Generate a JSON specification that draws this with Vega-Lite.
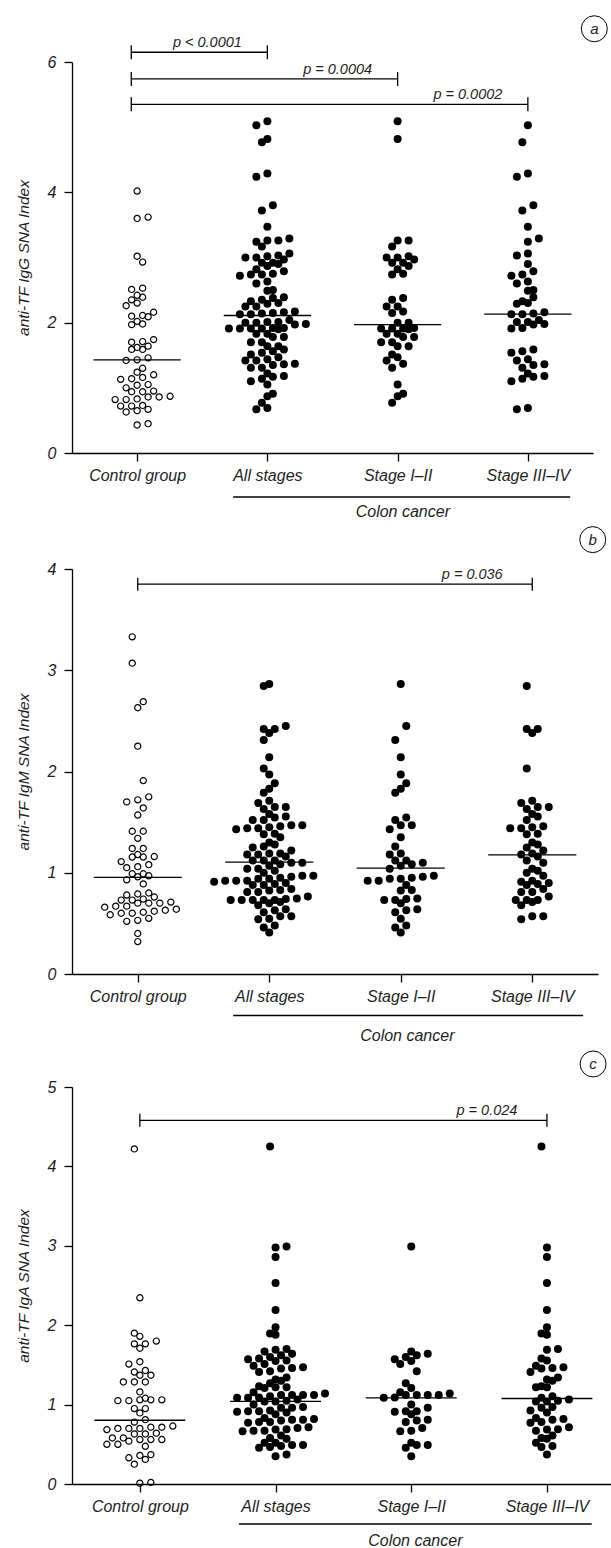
{
"$schema":"https://vega.github.io/schema/vega-lite/v6.json",
"background":"white",
"padding":{"left":16,"top":13,"right":0,"bottom":0},
"spacing":4,
"config":{
"view":{"stroke":null},
"font":"Liberation Sans",
"axis":{"grid":false,"domainColor":"black","domainWidth":1.3,"tickColor":"black","tickWidth":1.3,"tickSize":8,"labelFontSize":16,"labelFontStyle":"italic","labelColor":"#1e1e1e","titleFontSize":15.5,"titleFontStyle":"italic","titleFontWeight":"normal","titleColor":"#1e1e1e","labelFlush":false,"labelOverlap":false},
"axisY":{"labelPadding":8,"titlePadding":16,"format":"d"},
"axisX":{"labelPadding":6},
"text":{"fontStyle":"italic","color":"#1e1e1e"}
},
"datasets":{
"a":[
{"g":"C","v":4.02},{"g":"C","v":3.60},{"g":"C","v":3.62},{"g":"C","v":3.02},{"g":"C","v":2.93},{"g":"C","v":2.51},{"g":"C","v":2.53},{"g":"C","v":2.39},{"g":"C","v":2.35},{"g":"C","v":2.42},{"g":"C","v":2.30},{"g":"C","v":2.26},{"g":"C","v":2.16},{"g":"C","v":2.10},{"g":"C","v":2.09},{"g":"C","v":2.11},{"g":"C","v":1.98},{"g":"C","v":1.97},{"g":"C","v":2.02},{"g":"C","v":1.74},{"g":"C","v":1.70},{"g":"C","v":1.71},{"g":"C","v":1.59},{"g":"C","v":1.62},{"g":"C","v":1.64},{"g":"C","v":1.59},{"g":"C","v":1.43},{"g":"C","v":1.42},{"g":"C","v":1.46},{"g":"C","v":1.30},{"g":"C","v":1.20},{"g":"C","v":1.24},{"g":"C","v":1.16},{"g":"C","v":1.13},{"g":"C","v":1.14},{"g":"C","v":1.04},{"g":"C","v":1.00},{"g":"C","v":1.05},{"g":"C","v":0.94},{"g":"C","v":0.95},{"g":"C","v":0.94},{"g":"C","v":0.86},{"g":"C","v":0.82},{"g":"C","v":0.82},{"g":"C","v":0.83},{"g":"C","v":0.86},{"g":"C","v":0.87},{"g":"C","v":0.73},{"g":"C","v":0.72},{"g":"C","v":0.65},{"g":"C","v":0.63},{"g":"C","v":0.67},{"g":"C","v":0.72},{"g":"C","v":0.43},{"g":"C","v":0.45},
{"g":"E","v":5.09},{"g":"E","v":4.82},{"g":"E","v":3.26},{"g":"E","v":3.26},{"g":"E","v":3.17},{"g":"E","v":3.02},{"g":"E","v":3.00},{"g":"E","v":2.92},{"g":"E","v":2.92},{"g":"E","v":2.97},{"g":"E","v":3.00},{"g":"E","v":2.82},{"g":"E","v":2.87},{"g":"E","v":2.74},{"g":"E","v":2.75},{"g":"E","v":2.38},{"g":"E","v":2.35},{"g":"E","v":2.25},{"g":"E","v":2.15},{"g":"E","v":2.17},{"g":"E","v":2.25},{"g":"E","v":2.00},{"g":"E","v":2.00},{"g":"E","v":1.91},{"g":"E","v":1.91},{"g":"E","v":1.90},{"g":"E","v":1.91},{"g":"E","v":1.92},{"g":"E","v":1.83},{"g":"E","v":1.83},{"g":"E","v":1.78},{"g":"E","v":1.78},{"g":"E","v":1.70},{"g":"E","v":1.70},{"g":"E","v":1.64},{"g":"E","v":1.64},{"g":"E","v":1.51},{"g":"E","v":1.47},{"g":"E","v":1.42},{"g":"E","v":1.37},{"g":"E","v":1.31},{"g":"E","v":1.05},{"g":"E","v":0.91},{"g":"E","v":0.87},{"g":"E","v":0.77},
{"g":"L","v":5.03},{"g":"L","v":4.77},{"g":"L","v":4.29},{"g":"L","v":4.24},{"g":"L","v":3.72},{"g":"L","v":3.80},{"g":"L","v":3.47},{"g":"L","v":3.24},{"g":"L","v":3.29},{"g":"L","v":3.03},{"g":"L","v":3.06},{"g":"L","v":2.90},{"g":"L","v":2.79},{"g":"L","v":2.72},{"g":"L","v":2.74},{"g":"L","v":2.63},{"g":"L","v":2.60},{"g":"L","v":2.50},{"g":"L","v":2.49},{"g":"L","v":2.33},{"g":"L","v":2.29},{"g":"L","v":2.30},{"g":"L","v":2.39},{"g":"L","v":2.16},{"g":"L","v":2.13},{"g":"L","v":2.13},{"g":"L","v":2.14},{"g":"L","v":2.04},{"g":"L","v":2.01},{"g":"L","v":1.97},{"g":"L","v":1.91},{"g":"L","v":1.92},{"g":"L","v":1.98},{"g":"L","v":2.01},{"g":"L","v":1.56},{"g":"L","v":1.54},{"g":"L","v":1.59},{"g":"L","v":1.44},{"g":"L","v":1.42},{"g":"L","v":1.36},{"g":"L","v":1.31},{"g":"L","v":1.35},{"g":"L","v":1.18},{"g":"L","v":1.14},{"g":"L","v":1.10},{"g":"L","v":1.17},{"g":"L","v":1.22},{"g":"L","v":0.67},{"g":"L","v":0.69},
{"g":"A","v":5.09},{"g":"A","v":4.82},{"g":"A","v":3.26},{"g":"A","v":3.26},{"g":"A","v":3.17},{"g":"A","v":3.02},{"g":"A","v":3.00},{"g":"A","v":2.92},{"g":"A","v":2.92},{"g":"A","v":2.97},{"g":"A","v":3.00},{"g":"A","v":2.82},{"g":"A","v":2.87},{"g":"A","v":2.74},{"g":"A","v":2.75},{"g":"A","v":2.38},{"g":"A","v":2.35},{"g":"A","v":2.25},{"g":"A","v":2.15},{"g":"A","v":2.17},{"g":"A","v":2.25},{"g":"A","v":2.00},{"g":"A","v":2.00},{"g":"A","v":1.91},{"g":"A","v":1.91},{"g":"A","v":1.90},{"g":"A","v":1.91},{"g":"A","v":1.92},{"g":"A","v":1.83},{"g":"A","v":1.83},{"g":"A","v":1.78},{"g":"A","v":1.78},{"g":"A","v":1.70},{"g":"A","v":1.70},{"g":"A","v":1.64},{"g":"A","v":1.64},{"g":"A","v":1.51},{"g":"A","v":1.47},{"g":"A","v":1.42},{"g":"A","v":1.37},{"g":"A","v":1.31},{"g":"A","v":1.05},{"g":"A","v":0.91},{"g":"A","v":0.87},{"g":"A","v":0.77},
{"g":"A","v":5.03},{"g":"A","v":4.77},{"g":"A","v":4.29},{"g":"A","v":4.24},{"g":"A","v":3.72},{"g":"A","v":3.80},{"g":"A","v":3.47},{"g":"A","v":3.24},{"g":"A","v":3.29},{"g":"A","v":3.03},{"g":"A","v":3.06},{"g":"A","v":2.90},{"g":"A","v":2.79},{"g":"A","v":2.72},{"g":"A","v":2.74},{"g":"A","v":2.63},{"g":"A","v":2.60},{"g":"A","v":2.50},{"g":"A","v":2.49},{"g":"A","v":2.33},{"g":"A","v":2.29},{"g":"A","v":2.30},{"g":"A","v":2.39},{"g":"A","v":2.16},{"g":"A","v":2.13},{"g":"A","v":2.13},{"g":"A","v":2.14},{"g":"A","v":2.04},{"g":"A","v":2.01},{"g":"A","v":1.97},{"g":"A","v":1.91},{"g":"A","v":1.92},{"g":"A","v":1.98},{"g":"A","v":2.01},{"g":"A","v":1.56},{"g":"A","v":1.54},{"g":"A","v":1.59},{"g":"A","v":1.44},{"g":"A","v":1.42},{"g":"A","v":1.36},{"g":"A","v":1.31},{"g":"A","v":1.35},{"g":"A","v":1.18},{"g":"A","v":1.14},{"g":"A","v":1.10},{"g":"A","v":1.17},{"g":"A","v":1.22},{"g":"A","v":0.67},{"g":"A","v":0.69}
],
"b":[
{"g":"C","v":3.33},{"g":"C","v":3.07},{"g":"C","v":2.63},{"g":"C","v":2.69},{"g":"C","v":2.25},{"g":"C","v":1.91},{"g":"C","v":1.72},{"g":"C","v":1.70},{"g":"C","v":1.75},{"g":"C","v":1.57},{"g":"C","v":1.64},{"g":"C","v":1.41},{"g":"C","v":1.34},{"g":"C","v":1.41},{"g":"C","v":1.24},{"g":"C","v":1.24},{"g":"C","v":1.155},{"g":"C","v":1.11},{"g":"C","v":1.16},{"g":"C","v":1.18},{"g":"C","v":1.155},{"g":"C","v":1.06},{"g":"C","v":1.05},{"g":"C","v":1.08},{"g":"C","v":0.99},{"g":"C","v":0.96},{"g":"C","v":0.97},{"g":"C","v":0.99},{"g":"C","v":0.93},{"g":"C","v":0.89},{"g":"C","v":0.80},{"g":"C","v":0.78},{"g":"C","v":0.76},{"g":"C","v":0.79},{"g":"C","v":0.74},{"g":"C","v":0.73},{"g":"C","v":0.71},{"g":"C","v":0.73},{"g":"C","v":0.70},{"g":"C","v":0.70},{"g":"C","v":0.67},{"g":"C","v":0.64},{"g":"C","v":0.66},{"g":"C","v":0.67},{"g":"C","v":0.70},{"g":"C","v":0.62},{"g":"C","v":0.63},{"g":"C","v":0.60},{"g":"C","v":0.585},{"g":"C","v":0.55},{"g":"C","v":0.60},{"g":"C","v":0.61},{"g":"C","v":0.53},{"g":"C","v":0.52},{"g":"C","v":0.40},{"g":"C","v":0.32},
{"g":"E","v":2.865},{"g":"E","v":2.45},{"g":"E","v":2.31},{"g":"E","v":2.14},{"g":"E","v":1.97},{"g":"E","v":1.885},{"g":"E","v":1.83},{"g":"E","v":1.79},{"g":"E","v":1.52},{"g":"E","v":1.545},{"g":"E","v":1.43},{"g":"E","v":1.47},{"g":"E","v":1.47},{"g":"E","v":1.35},{"g":"E","v":1.26},{"g":"E","v":1.18},{"g":"E","v":1.19},{"g":"E","v":1.12},{"g":"E","v":1.10},{"g":"E","v":1.12},{"g":"E","v":1.07},{"g":"E","v":1.04},{"g":"E","v":1.085},{"g":"E","v":0.97},{"g":"E","v":0.94},{"g":"E","v":0.94},{"g":"E","v":0.95},{"g":"E","v":0.96},{"g":"E","v":0.92},{"g":"E","v":0.88},{"g":"E","v":0.92},{"g":"E","v":0.825},{"g":"E","v":0.83},{"g":"E","v":0.745},{"g":"E","v":0.73},{"g":"E","v":0.70},{"g":"E","v":0.73},{"g":"E","v":0.74},{"g":"E","v":0.64},{"g":"E","v":0.61},{"g":"E","v":0.63},{"g":"E","v":0.545},{"g":"E","v":0.48},{"g":"E","v":0.46},{"g":"E","v":0.41},
{"g":"L","v":2.845},{"g":"L","v":2.42},{"g":"L","v":2.38},{"g":"L","v":2.42},{"g":"L","v":2.03},{"g":"L","v":1.71},{"g":"L","v":1.69},{"g":"L","v":1.65},{"g":"L","v":1.63},{"g":"L","v":1.65},{"g":"L","v":1.555},{"g":"L","v":1.58},{"g":"L","v":1.52},{"g":"L","v":1.46},{"g":"L","v":1.45},{"g":"L","v":1.44},{"g":"L","v":1.44},{"g":"L","v":1.385},{"g":"L","v":1.38},{"g":"L","v":1.28},{"g":"L","v":1.30},{"g":"L","v":1.25},{"g":"L","v":1.22},{"g":"L","v":1.19},{"g":"L","v":1.16},{"g":"L","v":1.18},{"g":"L","v":1.12},{"g":"L","v":1.10},{"g":"L","v":1.04},{"g":"L","v":1.02},{"g":"L","v":0.97},{"g":"L","v":1.00},{"g":"L","v":0.92},{"g":"L","v":0.91},{"g":"L","v":0.89},{"g":"L","v":0.88},{"g":"L","v":0.90},{"g":"L","v":0.84},{"g":"L","v":0.81},{"g":"L","v":0.81},{"g":"L","v":0.765},{"g":"L","v":0.73},{"g":"L","v":0.71},{"g":"L","v":0.68},{"g":"L","v":0.73},{"g":"L","v":0.73},{"g":"L","v":0.57},{"g":"L","v":0.54},{"g":"L","v":0.57},
{"g":"A","v":2.865},{"g":"A","v":2.45},{"g":"A","v":2.31},{"g":"A","v":2.14},{"g":"A","v":1.97},{"g":"A","v":1.885},{"g":"A","v":1.83},{"g":"A","v":1.79},{"g":"A","v":1.52},{"g":"A","v":1.545},{"g":"A","v":1.43},{"g":"A","v":1.47},{"g":"A","v":1.47},{"g":"A","v":1.35},{"g":"A","v":1.26},{"g":"A","v":1.18},{"g":"A","v":1.19},{"g":"A","v":1.12},{"g":"A","v":1.10},{"g":"A","v":1.12},{"g":"A","v":1.07},{"g":"A","v":1.04},{"g":"A","v":1.085},{"g":"A","v":0.97},{"g":"A","v":0.94},{"g":"A","v":0.94},{"g":"A","v":0.95},{"g":"A","v":0.96},{"g":"A","v":0.92},{"g":"A","v":0.88},{"g":"A","v":0.92},{"g":"A","v":0.825},{"g":"A","v":0.83},{"g":"A","v":0.745},{"g":"A","v":0.73},{"g":"A","v":0.70},{"g":"A","v":0.73},{"g":"A","v":0.74},{"g":"A","v":0.64},{"g":"A","v":0.61},{"g":"A","v":0.63},{"g":"A","v":0.545},{"g":"A","v":0.48},{"g":"A","v":0.46},{"g":"A","v":0.41},
{"g":"A","v":2.845},{"g":"A","v":2.42},{"g":"A","v":2.38},{"g":"A","v":2.42},{"g":"A","v":2.03},{"g":"A","v":1.71},{"g":"A","v":1.69},{"g":"A","v":1.65},{"g":"A","v":1.63},{"g":"A","v":1.65},{"g":"A","v":1.555},{"g":"A","v":1.58},{"g":"A","v":1.52},{"g":"A","v":1.46},{"g":"A","v":1.45},{"g":"A","v":1.44},{"g":"A","v":1.44},{"g":"A","v":1.385},{"g":"A","v":1.38},{"g":"A","v":1.28},{"g":"A","v":1.30},{"g":"A","v":1.25},{"g":"A","v":1.22},{"g":"A","v":1.19},{"g":"A","v":1.16},{"g":"A","v":1.18},{"g":"A","v":1.12},{"g":"A","v":1.10},{"g":"A","v":1.04},{"g":"A","v":1.02},{"g":"A","v":0.97},{"g":"A","v":1.00},{"g":"A","v":0.92},{"g":"A","v":0.91},{"g":"A","v":0.89},{"g":"A","v":0.88},{"g":"A","v":0.90},{"g":"A","v":0.84},{"g":"A","v":0.81},{"g":"A","v":0.81},{"g":"A","v":0.765},{"g":"A","v":0.73},{"g":"A","v":0.71},{"g":"A","v":0.68},{"g":"A","v":0.73},{"g":"A","v":0.73},{"g":"A","v":0.57},{"g":"A","v":0.54},{"g":"A","v":0.57}
],
"c":[
{"g":"C","v":4.22},{"g":"C","v":2.345},{"g":"C","v":1.80},{"g":"C","v":1.765},{"g":"C","v":1.71},{"g":"C","v":1.86},{"g":"C","v":1.90},{"g":"C","v":1.765},{"g":"C","v":1.51},{"g":"C","v":1.54},{"g":"C","v":1.37},{"g":"C","v":1.285},{"g":"C","v":1.285},{"g":"C","v":1.41},{"g":"C","v":1.43},{"g":"C","v":1.285},{"g":"C","v":1.37},{"g":"C","v":1.16},{"g":"C","v":1.06},{"g":"C","v":1.05},{"g":"C","v":1.08},{"g":"C","v":1.05},{"g":"C","v":1.06},{"g":"C","v":1.06},{"g":"C","v":0.95},{"g":"C","v":0.95},{"g":"C","v":0.895},{"g":"C","v":0.78},{"g":"C","v":0.81},{"g":"C","v":0.70},{"g":"C","v":0.685},{"g":"C","v":0.73},{"g":"C","v":0.715},{"g":"C","v":0.715},{"g":"C","v":0.70},{"g":"C","v":0.70},{"g":"C","v":0.63},{"g":"C","v":0.63},{"g":"C","v":0.64},{"g":"C","v":0.56},{"g":"C","v":0.56},{"g":"C","v":0.58},{"g":"C","v":0.58},{"g":"C","v":0.54},{"g":"C","v":0.56},{"g":"C","v":0.50},{"g":"C","v":0.475},{"g":"C","v":0.50},{"g":"C","v":0.36},{"g":"C","v":0.31},{"g":"C","v":0.25},{"g":"C","v":0.33},{"g":"C","v":0.37},{"g":"C","v":0.01},{"g":"C","v":0.02},
{"g":"E","v":2.99},{"g":"E","v":1.67},{"g":"E","v":1.62},{"g":"E","v":1.57},{"g":"E","v":1.60},{"g":"E","v":1.64},{"g":"E","v":1.55},{"g":"E","v":1.51},{"g":"E","v":1.42},{"g":"E","v":1.27},{"g":"E","v":1.21},{"g":"E","v":1.14},{"g":"E","v":1.12},{"g":"E","v":1.12},{"g":"E","v":1.085},{"g":"E","v":1.09},{"g":"E","v":1.12},{"g":"E","v":1.12},{"g":"E","v":1.155},{"g":"E","v":1.00},{"g":"E","v":0.96},{"g":"E","v":0.915},{"g":"E","v":0.88},{"g":"E","v":0.91},{"g":"E","v":0.915},{"g":"E","v":0.80},{"g":"E","v":0.81},{"g":"E","v":0.78},{"g":"E","v":0.705},{"g":"E","v":0.665},{"g":"E","v":0.67},{"g":"E","v":0.49},{"g":"E","v":0.49},{"g":"E","v":0.52},{"g":"E","v":0.455},{"g":"E","v":0.35},
{"g":"L","v":4.25},{"g":"L","v":2.98},{"g":"L","v":2.86},{"g":"L","v":2.53},{"g":"L","v":2.19},{"g":"L","v":1.975},{"g":"L","v":1.895},{"g":"L","v":1.88},{"g":"L","v":1.69},{"g":"L","v":1.70},{"g":"L","v":1.58},{"g":"L","v":1.555},{"g":"L","v":1.49},{"g":"L","v":1.455},{"g":"L","v":1.46},{"g":"L","v":1.47},{"g":"L","v":1.41},{"g":"L","v":1.34},{"g":"L","v":1.30},{"g":"L","v":1.315},{"g":"L","v":1.23},{"g":"L","v":1.22},{"g":"L","v":1.22},{"g":"L","v":1.085},{"g":"L","v":1.05},{"g":"L","v":1.04},{"g":"L","v":1.105},{"g":"L","v":1.04},{"g":"L","v":1.065},{"g":"L","v":0.90},{"g":"L","v":0.96},{"g":"L","v":0.97},{"g":"L","v":0.925},{"g":"L","v":0.77},{"g":"L","v":0.82},{"g":"L","v":0.81},{"g":"L","v":0.83},{"g":"L","v":0.78},{"g":"L","v":0.715},{"g":"L","v":0.685},{"g":"L","v":0.67},{"g":"L","v":0.69},{"g":"L","v":0.61},{"g":"L","v":0.57},{"g":"L","v":0.58},{"g":"L","v":0.52},{"g":"L","v":0.48},{"g":"L","v":0.465},{"g":"L","v":0.37},
{"g":"A","v":2.99},{"g":"A","v":1.67},{"g":"A","v":1.62},{"g":"A","v":1.57},{"g":"A","v":1.60},{"g":"A","v":1.64},{"g":"A","v":1.55},{"g":"A","v":1.51},{"g":"A","v":1.42},{"g":"A","v":1.27},{"g":"A","v":1.21},{"g":"A","v":1.14},{"g":"A","v":1.12},{"g":"A","v":1.12},{"g":"A","v":1.085},{"g":"A","v":1.09},{"g":"A","v":1.12},{"g":"A","v":1.12},{"g":"A","v":1.155},{"g":"A","v":1.00},{"g":"A","v":0.96},{"g":"A","v":0.915},{"g":"A","v":0.88},{"g":"A","v":0.91},{"g":"A","v":0.915},{"g":"A","v":0.80},{"g":"A","v":0.81},{"g":"A","v":0.78},{"g":"A","v":0.705},{"g":"A","v":0.665},{"g":"A","v":0.67},{"g":"A","v":0.49},{"g":"A","v":0.49},{"g":"A","v":0.52},{"g":"A","v":0.455},{"g":"A","v":0.35},
{"g":"A","v":4.25},{"g":"A","v":2.98},{"g":"A","v":2.86},{"g":"A","v":2.53},{"g":"A","v":2.19},{"g":"A","v":1.975},{"g":"A","v":1.895},{"g":"A","v":1.88},{"g":"A","v":1.69},{"g":"A","v":1.70},{"g":"A","v":1.58},{"g":"A","v":1.555},{"g":"A","v":1.49},{"g":"A","v":1.455},{"g":"A","v":1.46},{"g":"A","v":1.47},{"g":"A","v":1.41},{"g":"A","v":1.34},{"g":"A","v":1.30},{"g":"A","v":1.315},{"g":"A","v":1.23},{"g":"A","v":1.22},{"g":"A","v":1.22},{"g":"A","v":1.085},{"g":"A","v":1.05},{"g":"A","v":1.04},{"g":"A","v":1.105},{"g":"A","v":1.04},{"g":"A","v":1.065},{"g":"A","v":0.90},{"g":"A","v":0.96},{"g":"A","v":0.97},{"g":"A","v":0.925},{"g":"A","v":0.77},{"g":"A","v":0.82},{"g":"A","v":0.81},{"g":"A","v":0.83},{"g":"A","v":0.78},{"g":"A","v":0.715},{"g":"A","v":0.685},{"g":"A","v":0.67},{"g":"A","v":0.69},{"g":"A","v":0.61},{"g":"A","v":0.57},{"g":"A","v":0.58},{"g":"A","v":0.52},{"g":"A","v":0.48},{"g":"A","v":0.465},{"g":"A","v":0.37}
],
"med":[
{"p":"a","g":"C","m":1.43},{"p":"a","g":"A","m":2.11},{"p":"a","g":"E","m":1.97},{"p":"a","g":"L","m":2.13},
{"p":"b","g":"C","m":0.955},{"p":"b","g":"A","m":1.105},{"p":"b","g":"E","m":1.046},{"p":"b","g":"L","m":1.177},
{"p":"c","g":"C","m":0.803},{"p":"c","g":"A","m":1.04},{"p":"c","g":"E","m":1.085},{"p":"c","g":"L","m":1.077}
],
"brk":[
{"p":"a","g1":"C","g2":"A","y":6.15,"t":"p < 0.0001"},
{"p":"a","g1":"C","g2":"E","y":5.74,"t":"p = 0.0004"},
{"p":"a","g1":"C","g2":"L","y":5.35,"t":"p = 0.0002"},
{"p":"b","g1":"C","g2":"L","y":3.85,"t":"p = 0.036"},
{"p":"c","g1":"C","g2":"L","y":4.58,"t":"p = 0.024"}
]
},
"vconcat":[
{
"width":521,"height":391,
"layer":[
{"data":{"name":"a"},
"transform":[
{"calculate":"indexof(['C','A','E','L'], datum.g)","as":"i"},
{"calculate":"floor(datum.v / 0.1)","as":"bin"},
{"window":[{"op":"row_number","as":"r"},{"op":"count","as":"n"}],"groupby":["g","bin"],"sort":[{"field":"v","order":"ascending"}],"frame":[null,null]},
{"calculate":"datum.i + (datum.r - (datum.n + 1) / 2 + ((datum.n + datum.bin) % 2 == 0 ? ((datum.bin % 4) < 2 ? 0.5 : -0.5) : 0)) * 0.0844","as":"xp"}
],
"mark":{"type":"point","shape":"circle","filled":true,"opacity":1},
"encoding":{
"x":{"field":"xp","type":"quantitative","scale":{"domain":[-0.5,3.5],"nice":false,"zero":false},"axis":{"values":[0,1,2,3],"labelExpr":"['Control group','All stages','Stage I–II','Stage III–IV'][datum.value]","title":null}},
"y":{"field":"v","type":"quantitative","scale":{"domain":[0,6],"nice":false,"zero":false},"axis":{"values":[0,2,4,6],"title":"anti-TF IgG SNA Index"}},
"fill":{"condition":{"test":"datum.g === 'C'","value":"transparent"},"value":"black"},
"stroke":{"condition":{"test":"datum.g === 'C'","value":"black"},"value":"transparent"},
"strokeWidth":{"value":1.2},
"size":{"condition":{"test":"datum.g === 'C'","value":38},"value":64}
}},
{"data":{"name":"med"},
"transform":[{"filter":"datum.p === 'a'"},{"calculate":"indexof(['C','A','E','L'], datum.g) - 0.335","as":"x1"},{"calculate":"datum.x1 + 0.67","as":"x2"}],
"mark":{"type":"rule","color":"black","strokeWidth":1.3},
"encoding":{"x":{"field":"x1","type":"quantitative"},"x2":{"field":"x2"},"y":{"field":"m","type":"quantitative"}}},
{"data":{"name":"brk"},
"transform":[{"filter":"datum.p === 'a'"},{"calculate":"indexof(['C','A','E','L'], datum.g1) - 0.045","as":"x1"},{"calculate":"indexof(['C','A','E','L'], datum.g2)","as":"x2"}],
"layer":[
{"mark":{"type":"rule","color":"black","strokeWidth":1.3},"encoding":{"x":{"field":"x1","type":"quantitative"},"x2":{"field":"x2"},"y":{"field":"y","type":"quantitative"}}},
{"mark":{"type":"tick","orient":"vertical","size":14,"thickness":1.3,"color":"black","opacity":1},"encoding":{"x":{"field":"x1","type":"quantitative"},"y":{"field":"y","type":"quantitative"}}},
{"mark":{"type":"tick","orient":"vertical","size":14,"thickness":1.3,"color":"black","opacity":1},"encoding":{"x":{"field":"x2","type":"quantitative"},"y":{"field":"y","type":"quantitative"}}},
{"mark":{"type":"text","align":"center","baseline":"alphabetic","dx":-60,"dy":-5,"fontSize":14.5},"encoding":{"x":{"field":"x2","type":"quantitative"},"y":{"field":"y","type":"quantitative"},"text":{"field":"t"}}}
]},
{"data":{"values":[{"t":"Colon cancer"}]},
"layer":[
{"mark":{"type":"rule","color":"black","strokeWidth":1.3},"encoding":{"x":{"datum":0.737},"x2":{"datum":3.325},"y":{"datum":-0.675}}},
{"mark":{"type":"text","fontSize":16,"baseline":"middle"},"encoding":{"x":{"datum":2.04},"y":{"datum":-0.905},"text":{"field":"t"}}}
]},
{"data":{"values":[{"t":"a"}]},
"layer":[
{"mark":{"type":"point","shape":"circle","filled":false,"size":676,"color":"black","strokeWidth":1,"opacity":1},"encoding":{"x":{"datum":3.51},"y":{"datum":6.51}}},
{"mark":{"type":"text","fontSize":15,"baseline":"middle"},"encoding":{"x":{"datum":3.51},"y":{"datum":6.51},"text":{"field":"t"}}}
]}
]
},
{
"width":526,"height":405,
"layer":[
{"data":{"name":"b"},
"transform":[
{"calculate":"indexof(['C','A','E','L'], datum.g)","as":"i"},
{"calculate":"floor(datum.v / 0.065)","as":"bin"},
{"window":[{"op":"row_number","as":"r"},{"op":"count","as":"n"}],"groupby":["g","bin"],"sort":[{"field":"v","order":"ascending"}],"frame":[null,null]},
{"calculate":"datum.i + (datum.r - (datum.n + 1) / 2 + ((datum.n + datum.bin) % 2 == 0 ? ((datum.bin % 4) < 2 ? 0.5 : -0.5) : 0)) * 0.0838","as":"xp"}
],
"mark":{"type":"point","shape":"circle","filled":true,"opacity":1},
"encoding":{
"x":{"field":"xp","type":"quantitative","scale":{"domain":[-0.5,3.5],"nice":false,"zero":false},"axis":{"values":[0,1,2,3],"labelExpr":"['Control group','All stages','Stage I–II','Stage III–IV'][datum.value]","title":null}},
"y":{"field":"v","type":"quantitative","scale":{"domain":[0,4],"nice":false,"zero":false},"axis":{"values":[0,1,2,3,4],"title":"anti-TF IgM SNA Index"}},
"fill":{"condition":{"test":"datum.g === 'C'","value":"transparent"},"value":"black"},
"stroke":{"condition":{"test":"datum.g === 'C'","value":"black"},"value":"transparent"},
"strokeWidth":{"value":1.2},
"size":{"condition":{"test":"datum.g === 'C'","value":38},"value":64}
}},
{"data":{"name":"med"},
"transform":[{"filter":"datum.p === 'b'"},{"calculate":"indexof(['C','A','E','L'], datum.g) - 0.335","as":"x1"},{"calculate":"datum.x1 + 0.67","as":"x2"}],
"mark":{"type":"rule","color":"black","strokeWidth":1.3},
"encoding":{"x":{"field":"x1","type":"quantitative"},"x2":{"field":"x2"},"y":{"field":"m","type":"quantitative"}}},
{"data":{"name":"brk"},
"transform":[{"filter":"datum.p === 'b'"},{"calculate":"indexof(['C','A','E','L'], datum.g1)","as":"x1"},{"calculate":"indexof(['C','A','E','L'], datum.g2)","as":"x2"}],
"layer":[
{"mark":{"type":"rule","color":"black","strokeWidth":1.3},"encoding":{"x":{"field":"x1","type":"quantitative"},"x2":{"field":"x2"},"y":{"field":"y","type":"quantitative"}}},
{"mark":{"type":"tick","orient":"vertical","size":13,"thickness":1.3,"color":"black","opacity":1},"encoding":{"x":{"field":"x1","type":"quantitative"},"y":{"field":"y","type":"quantitative"}}},
{"mark":{"type":"tick","orient":"vertical","size":13,"thickness":1.3,"color":"black","opacity":1},"encoding":{"x":{"field":"x2","type":"quantitative"},"y":{"field":"y","type":"quantitative"}}},
{"mark":{"type":"text","align":"center","baseline":"alphabetic","dx":-60,"dy":-5,"fontSize":14.5},"encoding":{"x":{"field":"x2","type":"quantitative"},"y":{"field":"y","type":"quantitative"},"text":{"field":"t"}}}
]},
{"data":{"values":[{"t":"Colon cancer"}]},
"layer":[
{"mark":{"type":"rule","color":"black","strokeWidth":1.3},"encoding":{"x":{"datum":0.726},"x2":{"datum":3.387},"y":{"datum":-0.41}}},
{"mark":{"type":"text","fontSize":16,"baseline":"middle"},"encoding":{"x":{"datum":2.05},"y":{"datum":-0.61},"text":{"field":"t"}}}
]},
{"data":{"values":[{"t":"b"}]},
"layer":[
{"mark":{"type":"point","shape":"circle","filled":false,"size":676,"color":"black","strokeWidth":1,"opacity":1},"encoding":{"x":{"datum":3.46},"y":{"datum":4.29}}},
{"mark":{"type":"text","fontSize":15,"baseline":"middle"},"encoding":{"x":{"datum":3.46},"y":{"datum":4.29},"text":{"field":"t"}}}
]}
]
},
{
"width":539,"height":397,
"layer":[
{"data":{"name":"c"},
"transform":[
{"calculate":"indexof(['C','A','E','L'], datum.g)","as":"i"},
{"calculate":"floor(datum.v / 0.082)","as":"bin"},
{"window":[{"op":"row_number","as":"r"},{"op":"count","as":"n"}],"groupby":["g","bin"],"sort":[{"field":"v","order":"ascending"}],"frame":[null,null]},
{"calculate":"datum.i + (datum.r - (datum.n + 1) / 2 + ((datum.n + datum.bin) % 2 == 0 ? ((datum.bin % 4) < 2 ? 0.5 : -0.5) : 0)) * 0.081","as":"xp"}
],
"mark":{"type":"point","shape":"circle","filled":true,"opacity":1},
"encoding":{
"x":{"field":"xp","type":"quantitative","scale":{"domain":[-0.5,3.472],"nice":false,"zero":false},"axis":{"values":[0,1,2,3],"labelExpr":"['Control group','All stages','Stage I–II','Stage III–IV'][datum.value]","title":null}},
"y":{"field":"v","type":"quantitative","scale":{"domain":[0,5],"nice":false,"zero":false},"axis":{"values":[0,1,2,3,4,5],"title":"anti-TF IgA SNA Index"}},
"fill":{"condition":{"test":"datum.g === 'C'","value":"transparent"},"value":"black"},
"stroke":{"condition":{"test":"datum.g === 'C'","value":"black"},"value":"transparent"},
"strokeWidth":{"value":1.2},
"size":{"condition":{"test":"datum.g === 'C'","value":38},"value":64}
}},
{"data":{"name":"med"},
"transform":[{"filter":"datum.p === 'c'"},{"calculate":"indexof(['C','A','E','L'], datum.g) - 0.335","as":"x1"},{"calculate":"datum.x1 + 0.67","as":"x2"}],
"mark":{"type":"rule","color":"black","strokeWidth":1.3},
"encoding":{"x":{"field":"x1","type":"quantitative"},"x2":{"field":"x2"},"y":{"field":"m","type":"quantitative"}}},
{"data":{"name":"brk"},
"transform":[{"filter":"datum.p === 'c'"},{"calculate":"indexof(['C','A','E','L'], datum.g1)","as":"x1"},{"calculate":"indexof(['C','A','E','L'], datum.g2)","as":"x2"}],
"layer":[
{"mark":{"type":"rule","color":"black","strokeWidth":1.3},"encoding":{"x":{"field":"x1","type":"quantitative"},"x2":{"field":"x2"},"y":{"field":"y","type":"quantitative"}}},
{"mark":{"type":"tick","orient":"vertical","size":13,"thickness":1.3,"color":"black","opacity":1},"encoding":{"x":{"field":"x1","type":"quantitative"},"y":{"field":"y","type":"quantitative"}}},
{"mark":{"type":"tick","orient":"vertical","size":13,"thickness":1.3,"color":"black","opacity":1},"encoding":{"x":{"field":"x2","type":"quantitative"},"y":{"field":"y","type":"quantitative"}}},
{"mark":{"type":"text","align":"center","baseline":"alphabetic","dx":-60,"dy":-5,"fontSize":14.5},"encoding":{"x":{"field":"x2","type":"quantitative"},"y":{"field":"y","type":"quantitative"},"text":{"field":"t"}}}
]},
{"data":{"values":[{"t":"Colon cancer"}]},
"layer":[
{"mark":{"type":"rule","color":"black","strokeWidth":1.3},"encoding":{"x":{"datum":0.73},"x2":{"datum":3.33},"y":{"datum":-0.504}}},
{"mark":{"type":"text","fontSize":16,"baseline":"middle"},"encoding":{"x":{"datum":2.03},"y":{"datum":-0.72},"text":{"field":"t"}}}
]},
{"data":{"values":[{"t":"c"}]},
"layer":[
{"mark":{"type":"point","shape":"circle","filled":false,"size":676,"color":"black","strokeWidth":1,"opacity":1},"encoding":{"x":{"datum":3.34},"y":{"datum":5.29}}},
{"mark":{"type":"text","fontSize":15,"baseline":"middle"},"encoding":{"x":{"datum":3.34},"y":{"datum":5.29},"text":{"field":"t"}}}
]}
]
}
]
}
